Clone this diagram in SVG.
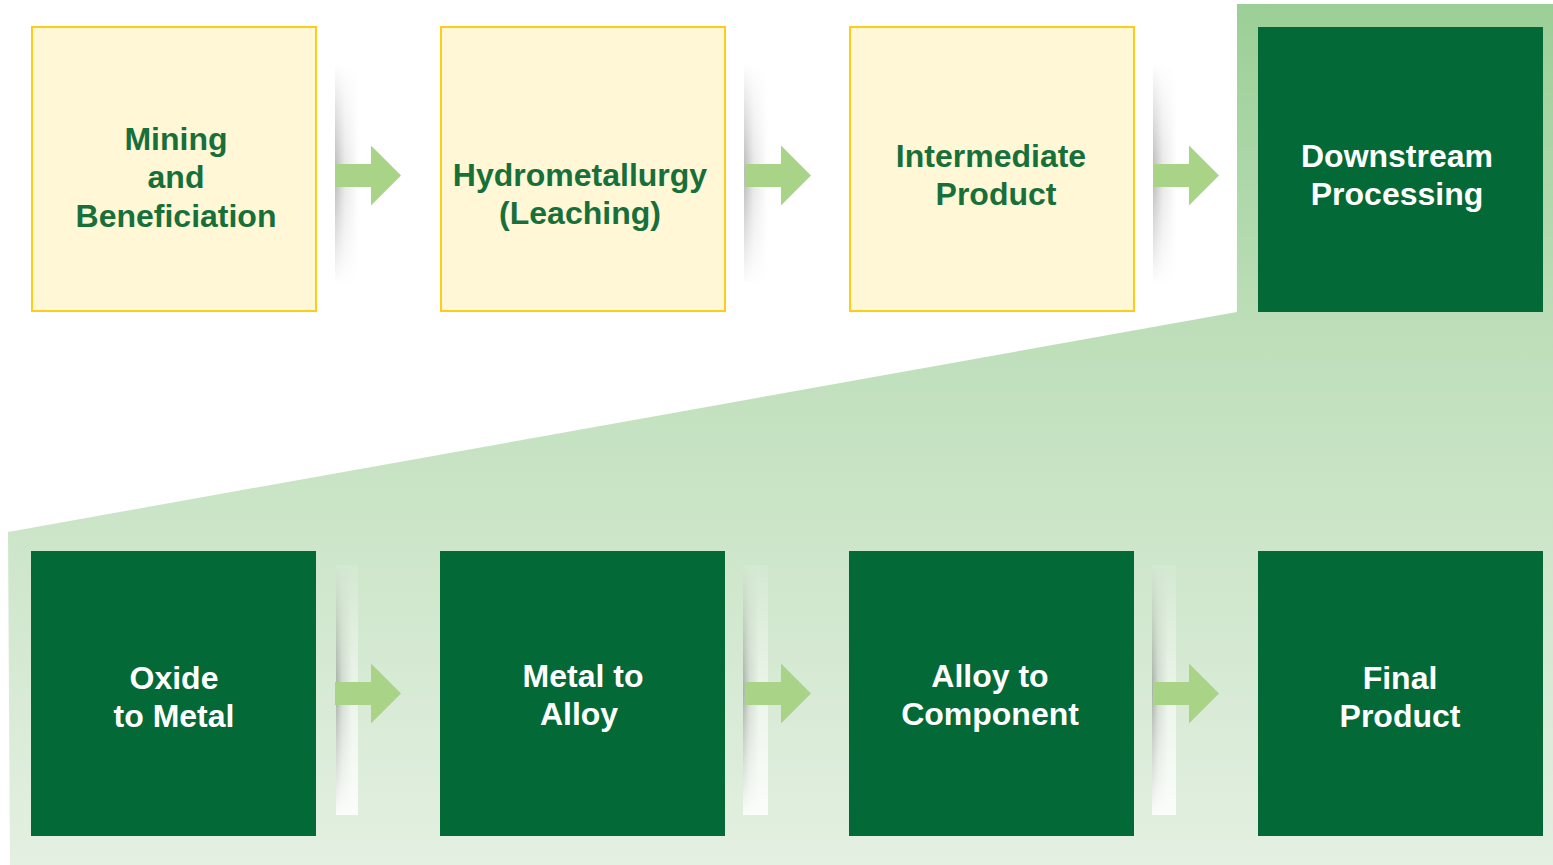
<svg xmlns="http://www.w3.org/2000/svg" width="1553" height="865" viewBox="0 0 1553 865">
<style>
.lt{fill:#fff7d6;stroke:#ffcc1a;stroke-width:2}
.dk{fill:#036936}
.t{font-family:"Liberation Sans",Arial,sans-serif;font-weight:bold;font-size:32px;text-anchor:middle}
.tg{fill:#17703a}
.tw{fill:#ffffff}
.arr{fill:#a9d488}
</style>
<defs>
<linearGradient id="bg" gradientUnits="userSpaceOnUse" x1="0" y1="4" x2="0" y2="865">
<stop offset="0" stop-color="#9bcf97"/>
<stop offset="0.4" stop-color="#bfdfbb"/>
<stop offset="1" stop-color="#e4f0e2"/>
</linearGradient>
<linearGradient id="sh" x1="0" y1="0" x2="1" y2="0">
<stop offset="0" stop-color="#000" stop-opacity="0.28"/>
<stop offset="0.4" stop-color="#000" stop-opacity="0.1"/>
<stop offset="1" stop-color="#000" stop-opacity="0"/>
</linearGradient>
<linearGradient id="vfade" x1="0" y1="0" x2="0" y2="1">
<stop offset="0" stop-color="#fff" stop-opacity="0"/>
<stop offset="0.5" stop-color="#fff" stop-opacity="1"/>
<stop offset="1" stop-color="#fff" stop-opacity="0"/>
</linearGradient>
<linearGradient id="ws" x1="0" y1="0" x2="0" y2="1">
<stop offset="0" stop-color="#fff" stop-opacity="0.1"/>
<stop offset="1" stop-color="#fff" stop-opacity="0.85"/>
</linearGradient>
<mask id="m" maskContentUnits="objectBoundingBox">
<rect x="0" y="0" width="1" height="1" fill="url(#vfade)"/>
</mask>
<path id="ar" class="arr" d="M0,-11.5 H36 V-30 L66,0 L36,30 V11.5 H0 Z"/>
</defs>

<polygon id="background" points="1237,4 1553,4 1553,865 10,865 8,532 1237,312" fill="url(#bg)"/>

<g id="connectors">
<g id="shadows-top">
<rect x="335" y="63" width="24" height="222" fill="url(#sh)" mask="url(#m)"/>
<rect x="744" y="63" width="24" height="222" fill="url(#sh)" mask="url(#m)"/>
<rect x="1153" y="63" width="24" height="222" fill="url(#sh)" mask="url(#m)"/>
</g>
<g id="shadows-bottom">
<rect x="336" y="565" width="22" height="250" fill="url(#ws)"/>
<rect x="743" y="565" width="25" height="250" fill="url(#ws)"/>
<rect x="1152" y="565" width="24" height="250" fill="url(#ws)"/>
<rect x="336" y="565" width="16" height="250" fill="url(#sh)" mask="url(#m)"/>
<rect x="743" y="565" width="16" height="250" fill="url(#sh)" mask="url(#m)"/>
<rect x="1152" y="565" width="16" height="250" fill="url(#sh)" mask="url(#m)"/>
</g>
<use href="#ar" x="335" y="175.5"/>
<use href="#ar" x="745" y="175.5"/>
<use href="#ar" x="1153" y="175.5"/>
<use href="#ar" x="335" y="693.5"/>
<use href="#ar" x="745" y="693.5"/>
<use href="#ar" x="1153" y="693.5"/>
</g>

<g id="n-mining">
<rect class="lt" x="32" y="27" width="284" height="284"/>
<text class="t tg" x="176" y="150">Mining</text>
<text class="t tg" x="176" y="188">and</text>
<text class="t tg" x="176" y="227">Beneficiation</text>
</g>
<g id="n-hydro">
<rect class="lt" x="441" y="27" width="284" height="284"/>
<text class="t tg" x="580" y="186">Hydrometallurgy</text>
<text class="t tg" x="580" y="224">(Leaching)</text>
</g>
<g id="n-intermediate">
<rect class="lt" x="850" y="27" width="284" height="284"/>
<text class="t tg" x="991" y="167">Intermediate</text>
<text class="t tg" x="996" y="205">Product</text>
</g>
<g id="n-downstream">
<rect class="dk" x="1258" y="27" width="285" height="285"/>
<text class="t tw" x="1397" y="167">Downstream</text>
<text class="t tw" x="1397" y="205">Processing</text>
</g>

<g id="n-oxide">
<rect class="dk" x="31" y="551" width="285" height="285"/>
<text class="t tw" x="174" y="689">Oxide</text>
<text class="t tw" x="174" y="727">to Metal</text>
</g>
<g id="n-metal">
<rect class="dk" x="440" y="551" width="285" height="285"/>
<text class="t tw" x="583" y="687">Metal to</text>
<text class="t tw" x="579" y="725">Alloy</text>
</g>
<g id="n-alloy">
<rect class="dk" x="849" y="551" width="285" height="285"/>
<text class="t tw" x="990" y="687">Alloy to</text>
<text class="t tw" x="990" y="725">Component</text>
</g>
<g id="n-final">
<rect class="dk" x="1258" y="551" width="285" height="285"/>
<text class="t tw" x="1400" y="689">Final</text>
<text class="t tw" x="1400" y="727">Product</text>
</g>
</svg>
